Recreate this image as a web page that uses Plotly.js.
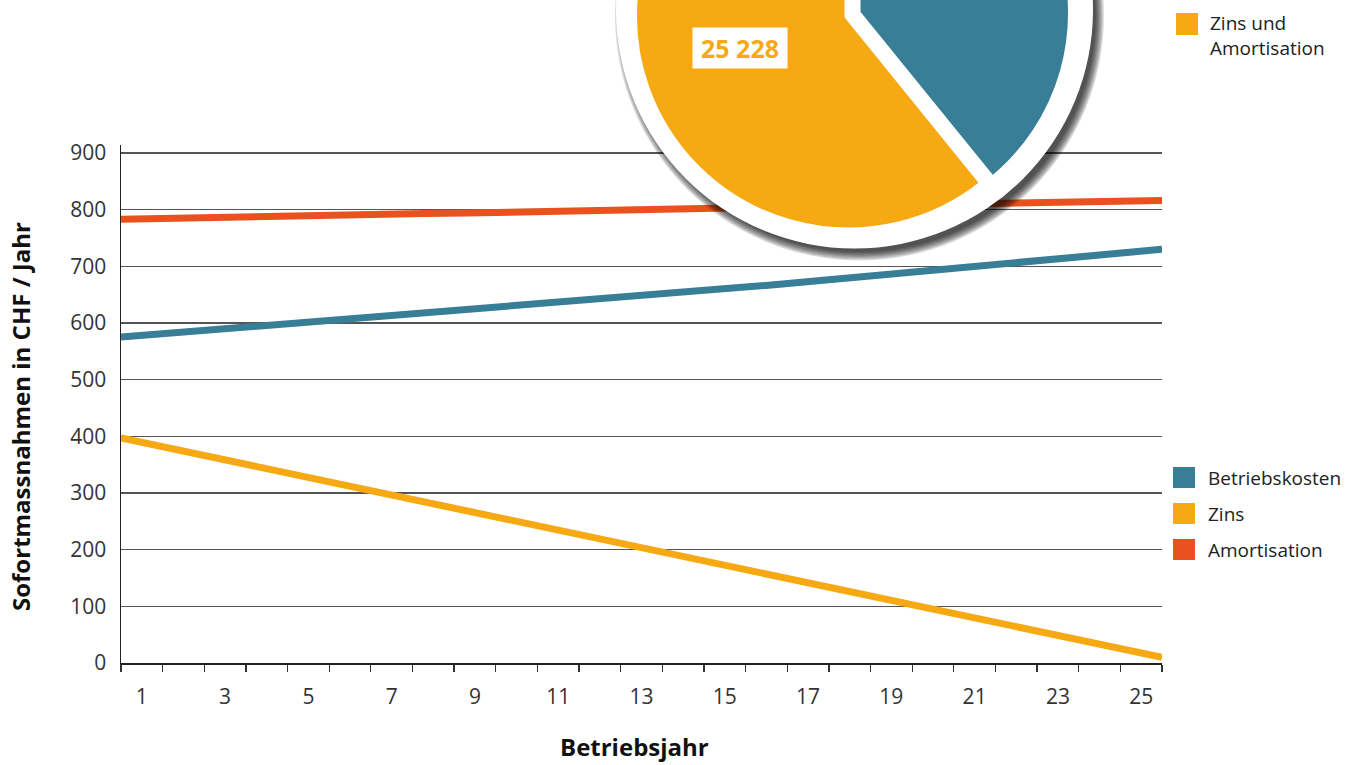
<!DOCTYPE html>
<html><head><meta charset="utf-8">
<script src="https://cdn.plot.ly/plotly-3.0.1.min.js"></script>
<style>
html,body{margin:0;padding:0;overflow:hidden;background:#fff;width:1347px;height:765px;}
#chart,#pie{position:absolute;left:0;top:-260px;width:1347px;height:1025px;}
</style></head><body>
<div id="chart"></div><div id="pie"></div>
<script>
// ---- data ----
const years = [1,2,3,4,5,6,7,8,9,10,11,12,13,14,15,16,17,18,19,20,21,22,23,24,25];
const tickYears = [1,3,5,7,9,11,13,15,17,19,21,23,25];
const yTicks = [0,100,200,300,400,500,600,700,800,900];
const seriesNames = ['Betriebskosten','Zins','Amortisation'];
const betriebskosten = [575,581,587,592,598,604,610,616,623,629,635,641,648,654,661,667,674,681,688,694,701,708,715,723,730];
const zins = [397,381,365,349,333,316,300,284,268,252,236,220,204,187,171,155,139,123,107,91,74,58,42,26,10];
const amortisation = [783,784,786,787,789,790,791,793,794,796,797,798,800,801,803,804,805,807,808,809,811,812,813,815,816];
const pieLabels = ['Betriebskosten','Zins und<br>Amortisation'];
const pieValues = [16235, 25228];
const xTitle = 'Betriebsjahr';
const yTitle = 'Sofortmassnahmen in CHF / Jahr';

// ---- styles ----
const BLUE = '#387E96', ORANGE = '#F7A914', RED = '#E9521E';
const FONT = 'Open Sans, Noto Sans, sans-serif';
const W = 1347, H = 1025, OFF = 260;   // figure taller than window, shifted up
const seriesColors = [BLUE, ORANGE, RED];
const seriesData = [betriebskosten, zins, amortisation];

// ---- line chart ----
const traces = [{x: [], y: [], type: 'scatter', mode: 'lines', hoverinfo: 'skip', showlegend: false}];
seriesNames.forEach((n, i) => traces.push({
  x: years, y: seriesData[i], name: n, type: 'scatter', mode: 'lines',
  xaxis: 'x2', yaxis: 'y', line: {color: seriesColors[i], width: 7}, showlegend: false
}));

const layout = {
  width: W, height: H,
  margin: {l: 121, r: 185, t: OFF + 145, b: 102},
  paper_bgcolor: 'rgba(0,0,0,0)', plot_bgcolor: 'rgba(0,0,0,0)',
  showlegend: false,
  font: {family: FONT, color: '#333'},
  xaxis: {
    range: [years[0] - 0.5, years[years.length - 1] + 0.5],
    tickmode: 'array', tickvals: tickYears, ticktext: tickYears.map(String),
    ticks: '', showgrid: false, zeroline: false,
    showline: true, linecolor: '#222', linewidth: 1.5,
    tickfont: {family: FONT, size: 21, color: '#333'},
    ticklabelstandoff: 14,
    minor: {tick0: 0.5, dtick: 1, ticks: 'outside', ticklen: 7, tickcolor: '#333', tickwidth: 1.3, showgrid: false},
    fixedrange: true
  },
  xaxis2: {overlaying: 'x', anchor: 'y', range: [years[0], years[years.length - 1]], visible: false, fixedrange: true},
  yaxis: {
    range: [0, 914], tickmode: 'array', tickvals: yTicks, ticktext: yTicks.map(String),
    ticks: '', showline: true, linecolor: '#222', linewidth: 1.5,
    showgrid: true, gridcolor: '#555', gridwidth: 1.2, zeroline: false,
    tickfont: {family: FONT, size: 21, color: '#333'},
    ticklabelstandoff: 9,
    fixedrange: true
  }
};
Plotly.newPlot('chart', traces, layout, {staticPlot: true});

// ---- pie overlay ----
const X = px => px / W;
const Y = py => 1 - (py + OFF) / H;
const ring = {cx: 854.5, cy: 10, r: 238.5};
const shapes = [];
for (let k = 0; k < 8; k++) {
  const rr = ring.r + 6 - k * 1.2;
  const sx = ring.cx + 5, sy = ring.cy + 6;
  shapes.push({type: 'circle', xref: 'paper', yref: 'paper', layer: 'below',
    x0: X(sx - rr), x1: X(sx + rr), y0: Y(sy + rr), y1: Y(sy - rr),
    fillcolor: 'rgba(0,0,0,0.13)', line: {width: 0}});
}
shapes.push({type: 'circle', xref: 'paper', yref: 'paper', layer: 'below',
  x0: X(ring.cx - ring.r), x1: X(ring.cx + ring.r), y0: Y(ring.cy + ring.r), y1: Y(ring.cy - ring.r),
  fillcolor: '#ffffff', line: {width: 0}});

const pieC = {cx: 848.5, cy: 16, R: 215.5, pullPx: 8.5};
const pull = pieC.pullPx / pieC.R;
const half = pieC.R * (1 + pull);
const pieTrace = {
  type: 'pie', labels: pieLabels, values: pieValues, sort: false,
  direction: 'clockwise', rotation: 0,
  marker: {colors: [BLUE, ORANGE], line: {color: '#ffffff', width: 8}},
  pull: [pull, 0], textinfo: 'none', hoverinfo: 'label+value', showlegend: false,
  domain: {x: [X(pieC.cx - half), X(pieC.cx + half)], y: [Y(pieC.cy + half), Y(pieC.cy - half)]}
};

const fmt = v => String(v).replace(/\B(?=(\d{3})+(?!\d))/g, ' ');
const annotations = [{
  xref: 'paper', yref: 'paper', x: X(739.5), y: Y(48), xanchor: 'center', yanchor: 'middle',
  text: fmt(pieValues[1]), showarrow: false, bgcolor: '#ffffff', width: 92, height: 38,
  font: {family: FONT, size: 25, color: ORANGE, weight: 'bold'}
}];

// axis titles
annotations.push({xref: 'paper', yref: 'paper', x: X(634), y: Y(746), xanchor: 'center', yanchor: 'middle',
  text: xTitle, showarrow: false, font: {family: FONT, size: 24, color: '#111', weight: 'bold'}});
annotations.push({xref: 'paper', yref: 'paper', x: X(20), y: Y(417), xanchor: 'center', yanchor: 'middle',
  text: yTitle, textangle: -90, showarrow: false, font: {family: FONT, size: 24, color: '#111', weight: 'bold'}});

// legend for the pie (upper right)
shapes.push({type: 'rect', xref: 'paper', yref: 'paper', layer: 'above',
  x0: X(1176), x1: X(1198), y0: Y(35), y1: Y(13), fillcolor: ORANGE, line: {width: 0}});
annotations.push({xref: 'paper', yref: 'paper', x: X(1208), y: Y(35), xanchor: 'left', yanchor: 'middle',
  align: 'left', text: pieLabels[1], showarrow: false, font: {family: FONT, size: 19, color: '#222'}});

// legend for the lines (right)
seriesNames.forEach((n, i) => {
  const y0 = 467 + 36 * i;
  shapes.push({type: 'rect', xref: 'paper', yref: 'paper', layer: 'above',
    x0: X(1173), x1: X(1195), y0: Y(y0 + 21), y1: Y(y0), fillcolor: seriesColors[i], line: {width: 0}});
  annotations.push({xref: 'paper', yref: 'paper', x: X(1206), y: Y(y0 + 10.5), xanchor: 'left', yanchor: 'middle',
    align: 'left', text: n, showarrow: false, font: {family: FONT, size: 19, color: '#222'}});
});

Plotly.newPlot('pie', [pieTrace], {
  width: W, height: H, margin: {l: 0, r: 0, t: 0, b: 0},
  paper_bgcolor: 'rgba(0,0,0,0)', showlegend: false,
  font: {family: FONT}, shapes: shapes, annotations: annotations
}, {staticPlot: true});
</script>
</body></html>
